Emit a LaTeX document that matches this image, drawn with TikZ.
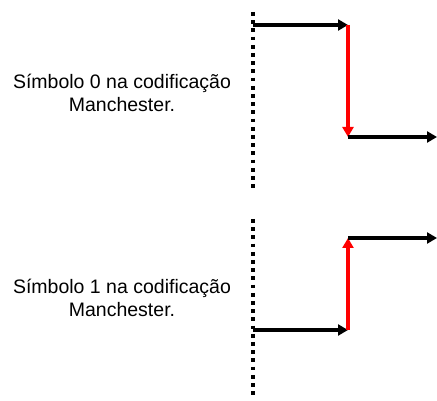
\documentclass[tikz,border=0pt]{standalone}
\usepackage{fontspec}
\setmainfont{Liberation Sans}
\usetikzlibrary{arrows.meta}
\begin{document}
\begin{tikzpicture}[x=1pt,y=-1pt,
  level/.style={line width=3.6pt,-{Triangle[length=10pt,width=11pt]}},
  edge/.style={line width=3.6pt,red,-{Triangle[length=10pt,width=11pt]}},
  boundary/.style={line width=3.8pt,dash pattern=on 3.8pt off 4.4pt},
  caption/.style={align=center,font=\fontsize{19.5}{23.5}\selectfont,inner sep=0pt}]
\useasboundingbox (0,0) rectangle (437,401);

% symbol 0: high then low
\coordinate (b0top) at (253,12);
\coordinate (b0bot) at (253,189);
\coordinate (h0a) at (253,25);
\coordinate (h0b) at (348,25);
\coordinate (l0a) at (348,137);
\coordinate (l0b) at (437,137);
\draw[boundary] (b0top) -- (b0bot);
\draw[level] (h0a) -- (h0b);
\draw[edge] (h0b) -- (l0a);
\draw[level] (l0a) -- (l0b);
\node[caption] (txt0) at (122,93) {Símbolo 0 na codificação\\Manchester.};

% symbol 1: low then high
\coordinate (b1top) at (253,219);
\coordinate (b1bot) at (253,397);
\coordinate (l1a) at (253,330);
\coordinate (l1b) at (348,330);
\coordinate (h1a) at (348,238);
\coordinate (h1b) at (437,238);
\draw[boundary] (b1top) -- (b1bot);
\draw[level] (l1a) -- (l1b);
\draw[edge] (l1b) -- (h1a);
\draw[level] (h1a) -- (h1b);
\node[caption] (txt1) at (122,298) {Símbolo 1 na codificação\\Manchester.};
\end{tikzpicture}
\end{document}
